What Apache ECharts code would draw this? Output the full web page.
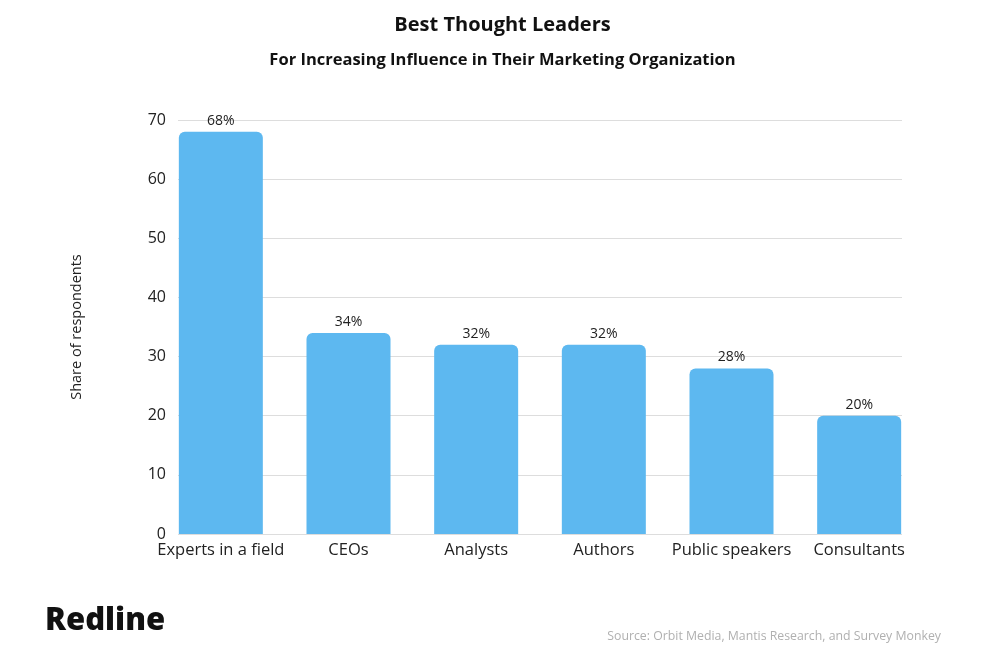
<!DOCTYPE html>
<html>
<head>
<meta charset="utf-8">
<script src="https://cdn.jsdelivr.net/npm/echarts@6/dist/echarts.min.js"></script>
<style>html,body{margin:0;padding:0;background:#fff}#c{width:1005px;height:658px}</style>
</head>
<body>
<div id="c"></div>
<script>
const categories = ["Experts in a field", "CEOs", "Analysts", "Authors", "Public speakers", "Consultants"];
const shares = [68, 34, 32, 32, 28, 20];
const yMin = 0, yMax = 70, yStep = 10;

const chart = echarts.init(document.getElementById('c'));
const font = '"Open Sans", "Noto Sans", sans-serif';
chart.setOption({
  backgroundColor: '#fff',
  animation: false,
  title: [
    {text: 'Best Thought Leaders', left: 'center', top: 10,
     textStyle: {fontFamily: font, fontWeight: 'bold', fontSize: 20, color: '#111'}},
    {text: 'For Increasing Influence in Their Marketing Organization', left: 'center', top: 47,
     textStyle: {fontFamily: font, fontWeight: 'bold', fontSize: 16.5, color: '#111'}},
    {text: 'Redline', left: 40, top: 601,
     textStyle: {fontFamily: font, fontWeight: 900, fontSize: 31, color: '#111'}},
    {text: 'Source: Orbit Media, Mantis Research, and Survey Monkey', right: 59, top: 625,
     textStyle: {fontFamily: font, fontWeight: 'normal', fontSize: 12.3, color: '#b0b0b0'}}
  ],
  grid: [
    {left: 178, right: 103, top: 120, bottom: 124},
    {left: 157, right: 82, top: 120, bottom: 124}
  ],
  xAxis: [
    {gridIndex: 0, type: 'value', show: false, min: 0, max: 1},
    {gridIndex: 1, type: 'category', data: categories,
     axisLine: {show: false}, axisTick: {show: false},
     axisLabel: {fontFamily: font, fontSize: 16.5, color: '#222', margin: 8, interval: 0}}
  ],
  yAxis: [
    {gridIndex: 0, type: 'value', min: yMin, max: yMax, interval: yStep,
     name: 'Share of respondents', nameLocation: 'middle', nameGap: 94, nameRotate: 90,
     nameTextStyle: {fontFamily: font, fontSize: 14.5, color: '#222'},
     axisLine: {show: false}, axisTick: {show: false},
     axisLabel: {fontFamily: font, fontSize: 16, color: '#222', margin: 12},
     splitLine: {lineStyle: {color: '#dddddd', width: 1}}},
    {gridIndex: 1, type: 'value', min: yMin, max: yMax, interval: yStep, show: false,
     splitLine: {show: false}}
  ],
  series: [{
    type: 'bar', xAxisIndex: 1, yAxisIndex: 1, data: shares, barWidth: 84,
    itemStyle: {color: '#5DB8F0', borderRadius: [6, 6, 0, 0]},
    label: {show: true, position: 'top', distance: 4, formatter: '{c}%',
            fontFamily: font, fontSize: 14, color: '#222'}
  }]
});
</script>
</body>
</html>
